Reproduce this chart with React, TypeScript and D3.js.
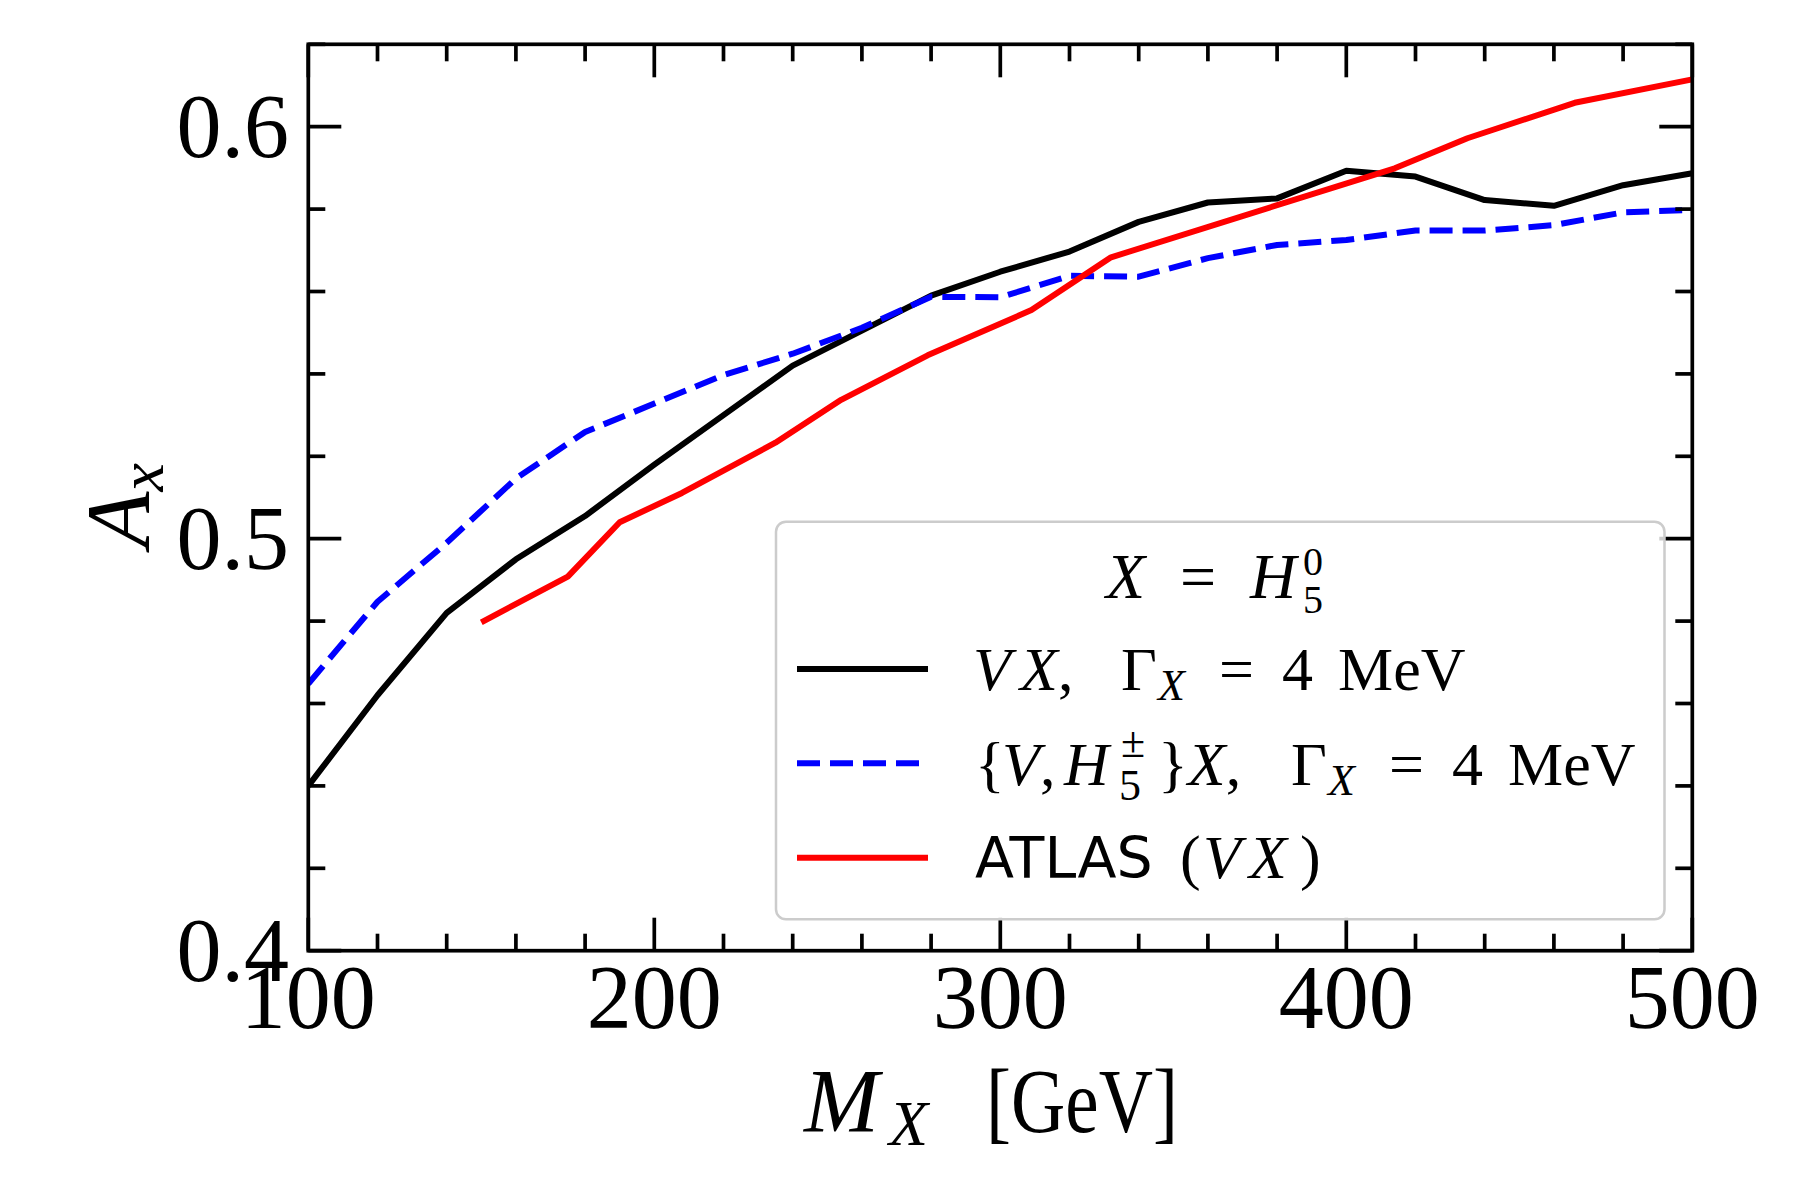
import * as d3 from 'd3';

// mass grid of the two simulated curves
const massGrid = [100, 120, 140, 160, 180, 200, 220, 240, 260, 280, 300, 320, 340, 360, 380, 400, 420, 440, 460, 480, 500];
const vxWidth4 = [0.440, 0.462, 0.482, 0.495, 0.5055, 0.518, 0.530, 0.542, 0.5505, 0.559, 0.5648, 0.5697, 0.5769, 0.5816, 0.5826, 0.5893, 0.5879, 0.5822, 0.5808, 0.5858, 0.5887];
const vh5Width4 = [0.4648, 0.4847, 0.4990, 0.5146, 0.5259, 0.5328, 0.5397, 0.5449, 0.5512, 0.5587, 0.5586, 0.5638, 0.5636, 0.5681, 0.5713, 0.5725, 0.5748, 0.5748, 0.5761, 0.5792, 0.5798];

// ATLAS points
const atlasMass = [150, 175, 190, 208, 235, 254, 279, 309, 332, 414, 435, 466, 500];
const atlasVX = [0.4797, 0.4908, 0.5040, 0.5111, 0.5233, 0.5337, 0.5445, 0.5555, 0.5683, 0.5899, 0.5972, 0.6058, 0.6115];

const xMajor = [100, 200, 300, 400, 500];
const yMajor = [0.4, 0.5, 0.6];
const xTickLabels = ['100', '200', '300', '400', '500'];
const yTickLabels = ['0.4', '0.5', '0.6'];

const W = 1800;
const H = 1200;
const left = 308.3, right = 1692.3, top = 44.3, bottom = 950.7;

const SERIF = '"Liberation Serif", "DejaVu Serif", serif';
const SANS = '"DejaVu Sans", sans-serif';

const x = d3.scaleLinear().domain([100, 500]).range([left, right]);
const y = d3.scaleLinear().domain([0.4, 0.62]).range([bottom, top]);

const line = d3.line<[number, number]>()
  .x(d => x(d[0]))
  .y(d => y(d[1]));

const xMinor = d3.range(100, 501, 20).filter(v => v % 100 !== 0);
const yMinor = d3.range(0, 12).map(i => +(0.4 + i * 0.02).toFixed(2)).filter(v => !yMajor.includes(v));

const MAJ = 33, MIN = 17, TW = 3.7;

function Ticks() {
  return (
    <g stroke="#000" strokeWidth={TW}>
      {xMajor.map(v => (
        <g key={'xM' + v}>
          <line x1={x(v)} x2={x(v)} y1={bottom} y2={bottom - MAJ} />
          <line x1={x(v)} x2={x(v)} y1={top} y2={top + MAJ} />
        </g>
      ))}
      {xMinor.map(v => (
        <g key={'xm' + v}>
          <line x1={x(v)} x2={x(v)} y1={bottom} y2={bottom - MIN} />
          <line x1={x(v)} x2={x(v)} y1={top} y2={top + MIN} />
        </g>
      ))}
      {yMajor.map(v => (
        <g key={'yM' + v}>
          <line x1={left} x2={left + MAJ} y1={y(v)} y2={y(v)} />
          <line x1={right} x2={right - MAJ} y1={y(v)} y2={y(v)} />
        </g>
      ))}
      {yMinor.map(v => (
        <g key={'ym' + v}>
          <line x1={left} x2={left + MIN} y1={y(v)} y2={y(v)} />
          <line x1={right} x2={right - MIN} y1={y(v)} y2={y(v)} />
        </g>
      ))}
    </g>
  );
}

const LF = 62; // legend font size
const SF = 44; // script size

function Legend() {
  const bx = 776, by = 521.7, bw = 888.5, bh = 397.6;
  const hx1 = 797, hx2 = 928;
  const rows = [669, 763.3, 857.7];
  const it = { fontStyle: 'italic' as const };
  return (
    <g fontFamily={SERIF} fontSize={LF} fill="#000">
      <rect x={bx} y={by} width={bw} height={bh} rx={10} ry={10}
        fill="#fff" fillOpacity={0.8} stroke="#cccccc" strokeWidth={2.5} />

      {/* title */}
      <text y={598.3} fontSize={64}>
        <tspan x={1106} {...it}>X</tspan>
        <tspan x={1180}>=</tspan>
        <tspan x={1250} {...it}>H</tspan>
        <tspan x={1303} y={575} fontSize={40}>0</tspan>
        <tspan x={1303} y={613} fontSize={40}>5</tspan>
      </text>

      {/* row 1 */}
      <line x1={hx1} x2={hx2} y1={rows[0]} y2={rows[0]} stroke="#000" strokeWidth={6} />
      <text y={690}>
        <tspan x={973} {...it}>V</tspan>
        <tspan x={1020} {...it}>X</tspan>
        <tspan>,</tspan>
        <tspan x={1121}>Γ</tspan>
        <tspan x={1158} y={700} fontSize={SF} {...it}>X</tspan>
        <tspan x={1219} y={690}>=</tspan>
        <tspan x={1282}>4</tspan>
        <tspan x={1338}>MeV</tspan>
      </text>

      {/* row 2 */}
      <line x1={hx1} x2={hx2} y1={rows[1]} y2={rows[1]} stroke="#0000ff" strokeWidth={6} strokeDasharray="23 10" />
      <text y={785}>
        <tspan x={975}>{'{'}</tspan>
        <tspan x={1002} {...it}>V</tspan>
        <tspan>,</tspan>
        <tspan x={1064} {...it}>H</tspan>
        <tspan x={1121} y={757} fontSize={SF}>±</tspan>
        <tspan x={1119} y={800} fontSize={SF}>5</tspan>
        <tspan x={1158} y={785}>{'}'}</tspan>
        <tspan {...it}>X</tspan>
        <tspan>,</tspan>
        <tspan x={1291}>Γ</tspan>
        <tspan x={1328} y={795} fontSize={SF} {...it}>X</tspan>
        <tspan x={1389} y={785}>=</tspan>
        <tspan x={1452}>4</tspan>
        <tspan x={1508}>MeV</tspan>
      </text>

      {/* row 3 */}
      <line x1={hx1} x2={hx2} y1={rows[2]} y2={rows[2]} stroke="#ff0000" strokeWidth={6} />
      <text y={878.3}>
        <tspan x={975} fontFamily={SANS} fontSize={57}>ATLAS</tspan>
        <tspan x={1180}>(</tspan>
        <tspan x={1203} {...it}>V</tspan>
        <tspan x={1249} {...it}>X</tspan>
        <tspan x={1300}>)</tspan>
      </text>
    </g>
  );
}

export default function App() {
  const black = massGrid.map((m, i) => [m, vxWidth4[i]] as [number, number]);
  const blue = massGrid.map((m, i) => [m, vh5Width4[i]] as [number, number]);
  const red = atlasMass.map((m, i) => [m, atlasVX[i]] as [number, number]);

  return (
    <svg width={W} height={H} style={{ position: 'absolute', left: 0, top: 0, background: '#fff' }}>
      <defs>
        <clipPath id="plot">
          <rect x={left} y={top} width={right - left} height={bottom - top} />
        </clipPath>
      </defs>
      <rect x={0} y={0} width={W} height={H} fill="#fff" />

      <g clipPath="url(#plot)" fill="none" strokeLinejoin="round">
        <path d={line(black) ?? ''} stroke="#000" strokeWidth={6} />
        <path d={line(blue) ?? ''} stroke="#0000ff" strokeWidth={6} strokeDasharray="23 10" />
        <path d={line(red) ?? ''} stroke="#ff0000" strokeWidth={6} />
      </g>

      <Ticks />
      <rect x={left} y={top} width={right - left} height={bottom - top} fill="none" stroke="#000" strokeWidth={TW} />

      {/* tick labels */}
      <g fontFamily={SERIF} fontSize={90} fill="#000">
        {xMajor.map((v, i) => (
          <text key={'xl' + v} x={x(v)} y={1028} textAnchor="middle">{xTickLabels[i]}</text>
        ))}
        {yMajor.map((v, i) => (
          <text key={'yl' + v} x={289} y={y(v) + 30} textAnchor="end">{yTickLabels[i]}</text>
        ))}
      </g>

      {/* axis labels */}
      <text y={1132} fontFamily={SERIF} fontSize={90}>
        <tspan x={804} fontStyle="italic">M</tspan>
        <tspan x={889} y={1145} fontStyle="italic" fontSize={64}>X</tspan>
      </text>
      <text x={986} y={1132} fontFamily={SERIF} fontSize={90} textLength={192} lengthAdjust="spacingAndGlyphs">[GeV]</text>
      <text transform={`translate(149, ${(top + bottom) / 2 + 8}) rotate(-90)`} fontFamily={SERIF} fontSize={92} textAnchor="middle">
        <tspan fontStyle="italic">A</tspan>
        <tspan fontStyle="italic" fontSize={64} dy={14}>x</tspan>
      </text>

      <Legend />
    </svg>
  );
}
